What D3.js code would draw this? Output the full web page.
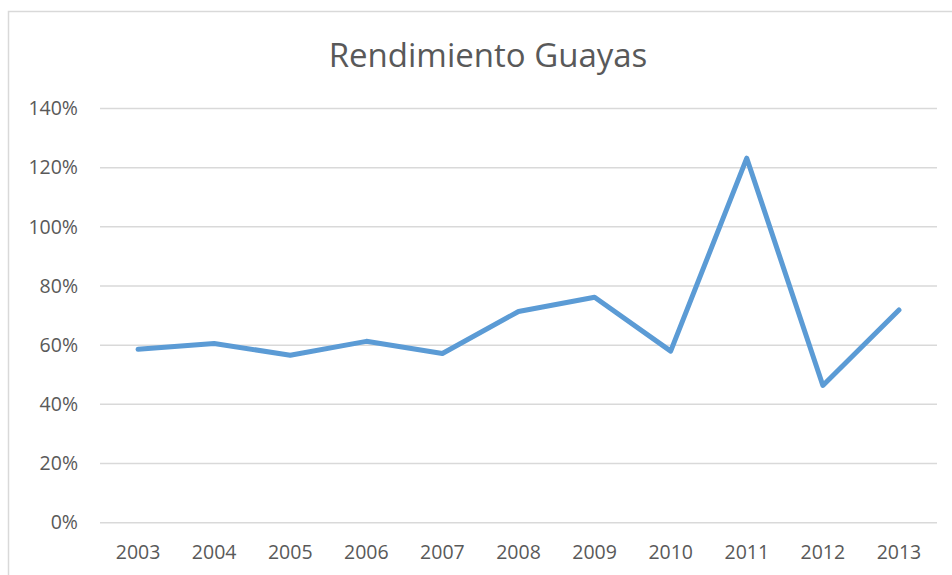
<!DOCTYPE html>
<html>
<head>
<meta charset="utf-8">
<script src="https://cdn.jsdelivr.net/npm/d3@7"></script>
<style>
  body { margin: 0; background: #fff; }
  svg { display: block; }
</style>
</head>
<body>
<div id="chart"></div>
<script>
// data
var years = ["2003", "2004", "2005", "2006", "2007", "2008", "2009", "2010", "2011", "2012", "2013"];
var rendimiento = [0.586, 0.606, 0.566, 0.613, 0.572, 0.714, 0.762, 0.580, 1.232, 0.464, 0.719];
var yTicks = [0, 0.2, 0.4, 0.6, 0.8, 1.0, 1.2, 1.4];

var W = 952, H = 575;
var svg = d3.select("#chart").append("svg").attr("width", W).attr("height", H);

// outer chart border (runs off the right/bottom edge)
svg.append("rect")
    .attr("x", 8.5).attr("y", 11.5)
    .attr("width", W + 10).attr("height", H + 10)
    .attr("fill", "none").attr("stroke", "#d9d9d9").attr("stroke-width", 1.5);

var plotLeft = 100, plotRight = 937, plotTop = 108.5, plotBottom = 522.7;

var x = d3.scaleBand().domain(years).range([plotLeft, plotRight]);
var y = d3.scaleLinear().domain([0, 1.4]).range([plotBottom, plotTop]);

// title
svg.append("text")
    .attr("x", 488).attr("y", 67)
    .attr("text-anchor", "middle")
    .style("font-family", "'Open Sans', sans-serif")
    .style("font-size", "33px")
    .style("fill", "#595959")
    .text("Rendimiento Guayas");

// gridlines
svg.append("g")
    .selectAll("line")
    .data(yTicks)
    .enter()
    .append("line")
    .attr("x1", plotLeft).attr("x2", plotRight)
    .attr("y1", function (d) { return y(d); })
    .attr("y2", function (d) { return y(d); })
    .attr("stroke", "#d9d9d9").attr("stroke-width", 1.5);

// y axis labels
var yAxis = d3.axisLeft(y).tickValues(yTicks).tickFormat(d3.format(".0%")).tickSize(0).tickPadding(22);
var gy = svg.append("g").attr("transform", "translate(" + plotLeft + ",0)").call(yAxis);
gy.select(".domain").remove();
gy.selectAll("text")
    .style("font-family", "'Open Sans', sans-serif")
    .style("font-size", "19.5px")
    .style("fill", "#595959");

// x axis labels
var xAxis = d3.axisBottom(x).tickSize(0).tickPadding(22);
var gx = svg.append("g").attr("transform", "translate(0," + plotBottom + ")").call(xAxis);
gx.select(".domain").remove();
gx.selectAll("text")
    .style("font-family", "'Open Sans', sans-serif")
    .style("font-size", "19.5px")
    .style("fill", "#595959");

// the line
var line = d3.line()
    .x(function (d, i) { return x(years[i]) + x.bandwidth() / 2; })
    .y(function (d) { return y(d); });

svg.append("path")
    .datum(rendimiento)
    .attr("d", line)
    .attr("fill", "none")
    .attr("stroke", "#5b9bd5")
    .attr("stroke-width", 5)
    .attr("stroke-linejoin", "round")
    .attr("stroke-linecap", "round");
</script>
</body>
</html>
